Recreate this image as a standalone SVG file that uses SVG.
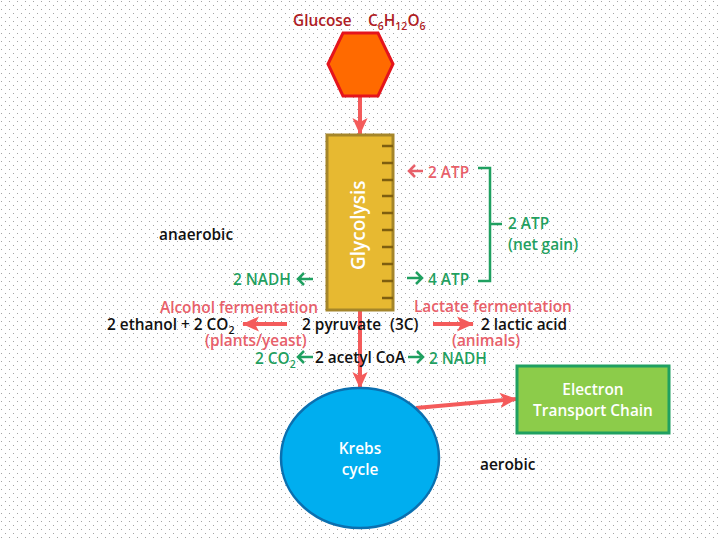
<svg xmlns="http://www.w3.org/2000/svg" width="720" height="540" viewBox="0 0 720 540">
<style>
text{font-family:"Open Sans","Liberation Sans",sans-serif;font-size:15.4px;font-weight:600}
.k{fill:#111}.g{fill:#1fa060}.r{fill:#e8606a}.w{fill:#fff}.d{fill:#b01c24}
.tick{stroke:#7d5e10;stroke-width:2.5}
.ar{fill:none;stroke:#f45b5b;stroke-width:4}
.tg{fill:none;stroke:#1fa060;stroke-width:2.5}
.tr{fill:none;stroke:#e8606a;stroke-width:2.5}
</style>
<defs>
<pattern id="dots" width="8" height="8" patternUnits="userSpaceOnUse">
<rect x="1" y="1" width="1" height="1" fill="#a4a4a4"/><rect x="5" y="5" width="1" height="1" fill="#a4a4a4"/>
</pattern>
<marker id="ah" markerWidth="5" markerHeight="5" refX="4" refY="2.5" orient="auto"><path d="M0 0.6L4.2 2.5L0 4.4L1 2.5Z" fill="#f45b5b"/></marker>
</defs>
<rect width="720" height="540" fill="#fff"/><rect width="720" height="540" fill="url(#dots)"/>
<g id="connectors">
<path class="ar" marker-end="url(#ah)" d="M360 96V134"/>
<path class="ar" marker-end="url(#ah)" d="M360 310V388"/>
<path class="ar" marker-end="url(#ah)" d="M287 324H243"/>
<path class="ar" marker-end="url(#ah)" d="M433 324H473"/>
<path class="ar" marker-end="url(#ah)" d="M416 408L516 399"/>
<path class="tr" d="M423 171H409M415 165L409 171L415 177"/>
<path class="tg" d="M313 279H298M304 273L298 279L304 285"/>
<path class="tg" d="M407 278H422M416 272L422 278L416 284"/>
<path class="tg" d="M313 357H298M304 351L298 357L304 363"/>
<path class="tg" d="M408 357H423M417 351L423 357L417 363"/>
<path class="tg" d="M478 168H490V281H478M490 224H502"/>
</g>
<g id="glucose">
<path d="M343 33H378L393 64L378 96H343L328 64Z" fill="#ff6a00" stroke="#e5141c" stroke-width="3"/>
<text class="d" x="293" y="26">Glucose</text>
<text class="d" x="368" y="26">C<tspan font-size="10.5" dy="4">6</tspan><tspan dy="-4">H</tspan><tspan font-size="10.5" dy="4">12</tspan><tspan dy="-4">O</tspan><tspan font-size="10.5" dy="4">6</tspan></text>
</g>
<g id="glycolysis">
<rect x="327" y="135" width="66" height="175" fill="#e7b931" stroke="#a5862a" stroke-width="3"/>
<path class="tick" d="M382 146H393M382 163H393M382 180H393M382 196H393M382 213H393M382 230H393M382 247H393M382 264H393M382 281H393M382 298H393"/>
<text class="w" transform="translate(365 270) rotate(-90)" style="font-size:19px">Glycolysis</text>
</g>
<g id="labels">
<text class="k" x="159" y="240">anaerobic</text>
<text class="k" x="480" y="470">aerobic</text>
<text class="g" x="233" y="285">2 NADH</text>
<text class="r" x="428" y="178">2 ATP</text>
<text class="g" x="428" y="285">4 ATP</text>
<text class="g" x="508" y="229">2 ATP</text>
<text class="g" x="508" y="250">(net gain)</text>
<text class="r" x="160" y="313">Alcohol fermentation</text>
<text class="r" x="414" y="312">Lactate fermentation</text>
<text class="k" x="107" y="330">2 ethanol + 2 CO<tspan font-size="10.5" dy="4">2</tspan></text>
<text class="k" x="302" y="330">2 pyruvate</text>
<text class="k" x="390" y="330">(3C)</text>
<text class="k" x="481" y="330">2 lactic acid</text>
<text class="r" x="205" y="346">(plants/yeast)</text>
<text class="r" x="452" y="346">(animals)</text>
<text class="g" x="255" y="364">2 CO<tspan font-size="10.5" dy="4">2</tspan></text>
<text class="k" x="315" y="363">2 acetyl CoA</text>
<text class="g" x="429" y="364">2 NADH</text>
</g>
<g id="krebs">
<ellipse cx="360" cy="458" rx="79" ry="70" fill="#00aeef" stroke="#0a70b0" stroke-width="2.5"/>
<text class="w" x="360" y="454" text-anchor="middle">Krebs</text>
<text class="w" x="360" y="475" text-anchor="middle">cycle</text>
</g>
<g id="etc">
<rect x="517" y="366" width="152" height="67" fill="#8ccc4a" stroke="#1fa060" stroke-width="3"/>
<text class="w" x="593" y="395" text-anchor="middle">Electron</text>
<text class="w" x="593" y="416" text-anchor="middle">Transport Chain</text>
</g>
</svg>
